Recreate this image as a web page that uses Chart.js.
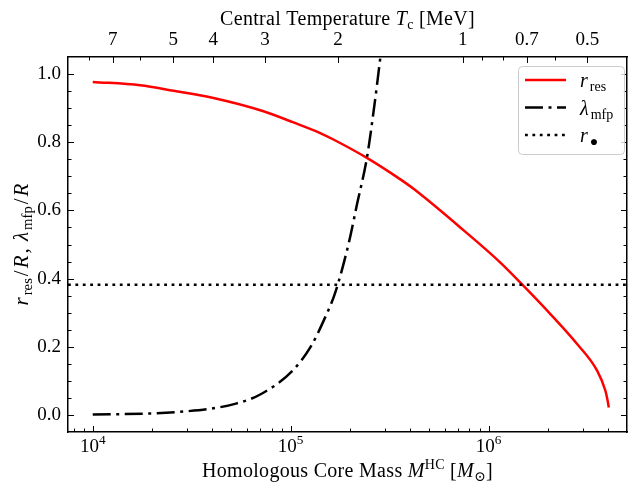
<!DOCTYPE html>
<html>
<head>
<meta charset="utf-8">
<script src="https://cdn.jsdelivr.net/npm/chart.js@4.4.1/dist/chart.umd.min.js"></script>
<style>
    html, body { margin: 0; padding: 0; background: #ffffff; }
    #wrap { width: 634px; height: 483px; }
</style>
</head>
<body>
<div id="wrap"><canvas id="chart" width="634" height="483"></canvas></div>
<script>
// Values (mass in solar masses)
const massRes = [1.0e4, 1.734e4, 2.559e4, 4.074e4, 7.287e4, 1.033e5, 1.409e5, 1.644e5, 2.427e5, 3.581e5,
                 4.207e5, 7.534e5, 1.146e6, 1.476e6, 2.051e6, 2.799e6, 3.532e6, 3.890e6, 3.981e6, 4.046e6];
const rRes = [0.977, 0.967, 0.951, 0.930, 0.891, 0.858, 0.827, 0.808, 0.754, 0.691,
              0.662, 0.540, 0.447, 0.383, 0.296, 0.208, 0.130, 0.071, 0.045, 0.022];

const massMfp = [1.0e4, 2.065e4, 2.871e4, 3.917e4, 5.346e4, 7.015e4, 1.014e5, 1.256e5, 1.466e5, 1.679e5,
                 1.959e5, 2.163e5, 2.427e5, 2.624e5, 2.835e5, 3.0e5];
const lambdaMfp = [0.001, 0.005, 0.010, 0.018, 0.034, 0.060, 0.128, 0.198, 0.276, 0.359,
                   0.501, 0.618, 0.754, 0.891, 1.047, 1.17];

const rBullet = 0.382;

// Axis limits and ticks
const massLimits = [7.5e3, 5e6];
const tempLimits = [0.4011, 8.974];   // top axis, same span as the mass range
const yLimits = [-0.05, 1.05];
const massTicks = [1e4, 1e5, 1e6];
const massMinor = [8e3, 9e3, 2e4, 3e4, 4e4, 5e4, 6e4, 7e4, 8e4, 9e4,
                   2e5, 3e5, 4e5, 5e5, 6e5, 7e5, 8e5, 9e5, 2e6, 3e6, 4e6];
const tempTicks = [7, 5, 4, 3, 2, 1, 0.7, 0.5];
const tempMinor = [8, 6, 0.9, 0.8, 0.6];
const yTicks = [0, 0.2, 0.4, 0.6, 0.8, 1.0];
const yMinor = [0.05, 0.1, 0.15, 0.25, 0.3, 0.35, 0.45, 0.5, 0.55, 0.65, 0.7, 0.75, 0.85, 0.9, 0.95];

const serif = "'Liberation Serif', 'DejaVu Serif', serif";
const tickSize = 19;

// Rich text pieces: [text, kind] with kind n | i | sub | sup
const legendLabels = [
    [['r', 'i'], ['res', 'sub']],
    [['λ', 'i'], ['mfp', 'sub']],
    [['r', 'i'], ['●', 'sub']]
];
const xTitle = [['Homologous Core Mass ', 'n'], ['M', 'i'], ['HC', 'sup'], [' [', 'n'], ['M', 'i'], ['⊙', 'sub'], [']', 'n']];
const x2Title = [['Central Temperature ', 'n'], ['T', 'i'], ['c', 'sub'], [' [MeV]', 'n']];
const yTitle = [['r', 'i'], ['res', 'sub'], ['/', 'n'], ['R', 'i'], [', ', 'n'], ['λ', 'i'], ['mfp', 'sub'], ['/', 'n'], ['R', 'i']];

function fontOf(kind, size) {
    return (kind === 'i' ? 'italic ' : '') + size + 'px ' + serif;
}

// draws a run of text pieces with italics, sub- and superscripts
function drawRich(ctx, parts, x, y, size, align, opts) {
    const gap = (opts && opts.gap) || 0;
    ctx.letterSpacing = ((opts && opts.spacing) || 0) + 'px';
    let total = 0;
    const pieces = parts.map(([t, k]) => {
        const small = k === 'sub' || k === 'sup';
        const f = fontOf(k, small ? size * 0.7 : size);
        ctx.font = f;
        const w = ctx.measureText(t).width + gap;
        total += w;
        return { t, f, w, dy: k === 'sub' ? size * 0.22 : (k === 'sup' ? -size * 0.42 : 0) };
    });
    total -= gap;
    let cx = align === 'center' ? x - total / 2 : x;
    ctx.textAlign = 'left';
    ctx.textBaseline = 'alphabetic';
    pieces.forEach(p => {
        ctx.font = p.f;
        ctx.fillText(p.t, cx, y + p.dy);
        cx += p.w;
    });
    ctx.letterSpacing = '0px';
}

// Inward tick marks, power-of-ten labels, axis titles and legend
const axisDecor = {
    id: 'axisDecor',
    afterDraw(chart) {
        const { ctx, chartArea: a, scales } = chart;
        ctx.save();
        ctx.strokeStyle = '#000';
        ctx.lineWidth = 1;
        const vTick = (x, y0, len) => {
            x = Math.round(x) + 0.5;
            ctx.beginPath(); ctx.moveTo(x, y0); ctx.lineTo(x, y0 + len); ctx.stroke();
        };
        const hTick = (y, x0, len) => {
            y = Math.round(y) + 0.5;
            ctx.beginPath(); ctx.moveTo(x0, y); ctx.lineTo(x0 + len, y); ctx.stroke();
        };
        massTicks.forEach(v => vTick(scales.x.getPixelForValue(v), a.bottom, -6));
        massMinor.forEach(v => vTick(scales.x.getPixelForValue(v), a.bottom, -3.5));
        tempTicks.forEach(v => vTick(scales.x2.getPixelForValue(v), a.top, 6));
        tempMinor.forEach(v => vTick(scales.x2.getPixelForValue(v), a.top, 3.5));
        yTicks.forEach(v => {
            const y = scales.y.getPixelForValue(v);
            hTick(y, a.left, 6); hTick(y, a.right, -6);
        });
        yMinor.forEach(v => {
            const y = scales.y.getPixelForValue(v);
            hTick(y, a.left, 3.5); hTick(y, a.right, -3.5);
        });

        // bottom labels as 10^n
        ctx.fillStyle = '#000';
        massTicks.forEach(v => {
            const x = scales.x.getPixelForValue(v);
            const exp = String(Math.round(Math.log10(v)));
            drawRich(ctx, [['10', 'n'], [exp, 'sup']], x, 452, tickSize, 'center');
        });

        // axis titles
        const cx = (a.left + a.right) / 2;
        drawRich(ctx, xTitle, cx, 477, 20, 'center', { spacing: 0.3 });
        drawRich(ctx, x2Title, cx, 25, 20, 'center', { spacing: 0.3 });
        ctx.save();
        ctx.translate(27.5, (a.top + a.bottom) / 2);
        ctx.rotate(-Math.PI / 2);
        drawRich(ctx, yTitle, 0, 0, 21, 'center', { gap: 2 });
        ctx.restore();

        // legend
        const box = { x: 518.5, y: 66.5, w: 106, h: 88 };
        ctx.beginPath();
        ctx.roundRect(box.x, box.y, box.w, box.h, 4);
        ctx.fillStyle = 'rgba(255,255,255,0.8)';
        ctx.fill();
        ctx.strokeStyle = '#cccccc';
        ctx.stroke();
        chart.data.datasets.forEach((ds, i) => {
            const rowY = 80 + i * 27.5;
            ctx.beginPath();
            ctx.strokeStyle = ds.borderColor;
            ctx.lineWidth = ds.borderWidth;
            ctx.lineCap = 'butt';
            ctx.setLineDash(ds.borderDash || []);
            ctx.moveTo(525, rowY);
            ctx.lineTo(566, rowY);
            ctx.stroke();
            ctx.setLineDash([]);
            ctx.fillStyle = '#000';
            drawRich(ctx, legendLabels[i], 580, rowY + 7, 20, 'left', { gap: 2 });
        });
        ctx.restore();
    }
};

function xy(xs, ys) {
    return xs.map((x, i) => ({ x: x, y: ys[i] }));
}

Chart.defaults.font.family = serif;
Chart.defaults.font.size = tickSize;
Chart.defaults.color = '#000';

const border = { display: true, color: '#000', width: 1.5 };
const noGrid = { display: false, drawTicks: false };

new Chart(document.getElementById('chart'), {
    type: 'line',
    data: {
        datasets: [
            {
                data: xy(massRes, rRes),
                borderColor: '#ff0000',
                borderWidth: 2.5,
                cubicInterpolationMode: 'monotone',
                pointRadius: 0,
                order: 3
            },
            {
                data: xy(massMfp, lambdaMfp),
                borderColor: '#000000',
                borderWidth: 2.5,
                borderDash: [18, 5.5, 3, 5.5],
                borderCapStyle: 'butt',
                cubicInterpolationMode: 'monotone',
                pointRadius: 0,
                order: 2
            },
            {
                data: xy(massLimits, [rBullet, rBullet]),
                borderColor: '#000000',
                borderWidth: 2.5,
                borderDash: [2.8, 4.6],
                borderCapStyle: 'butt',
                pointRadius: 0,
                order: 1
            }
        ]
    },
    options: {
        responsive: false,
        animation: false,
        layout: { padding: 0 },
        plugins: {
            legend: { display: false },
            tooltip: { enabled: false }
        },
        scales: {
            x: {
                type: 'logarithmic',
                position: 'bottom',
                min: massLimits[0],
                max: massLimits[1],
                grid: noGrid,
                border: border,
                ticks: { display: false },
                afterBuildTicks: s => { s.ticks = massTicks.map(v => ({ value: v })); },
                afterFit: s => { s.height = 51; }
            },
            x2: {
                type: 'logarithmic',
                position: 'top',
                reverse: true,
                min: tempLimits[0],
                max: tempLimits[1],
                grid: noGrid,
                border: border,
                ticks: { padding: 6, autoSkip: false, maxRotation: 0, callback: v => String(v) },
                afterBuildTicks: s => { s.ticks = tempTicks.map(v => ({ value: v })); },
                afterFit: s => { s.height = 57; }
            },
            y: {
                type: 'linear',
                position: 'left',
                min: yLimits[0],
                max: yLimits[1],
                grid: noGrid,
                border: border,
                ticks: { padding: 7, callback: v => v.toFixed(1) },
                afterBuildTicks: s => { s.ticks = yTicks.map(v => ({ value: v })); },
                afterFit: s => { s.width = 68; }
            },
            y2: {
                type: 'linear',
                position: 'right',
                min: yLimits[0],
                max: yLimits[1],
                grid: noGrid,
                border: border,
                ticks: { display: false },
                afterFit: s => { s.width = 7; }
            }
        }
    },
    plugins: [axisDecor]
});
</script>
</body>
</html>
